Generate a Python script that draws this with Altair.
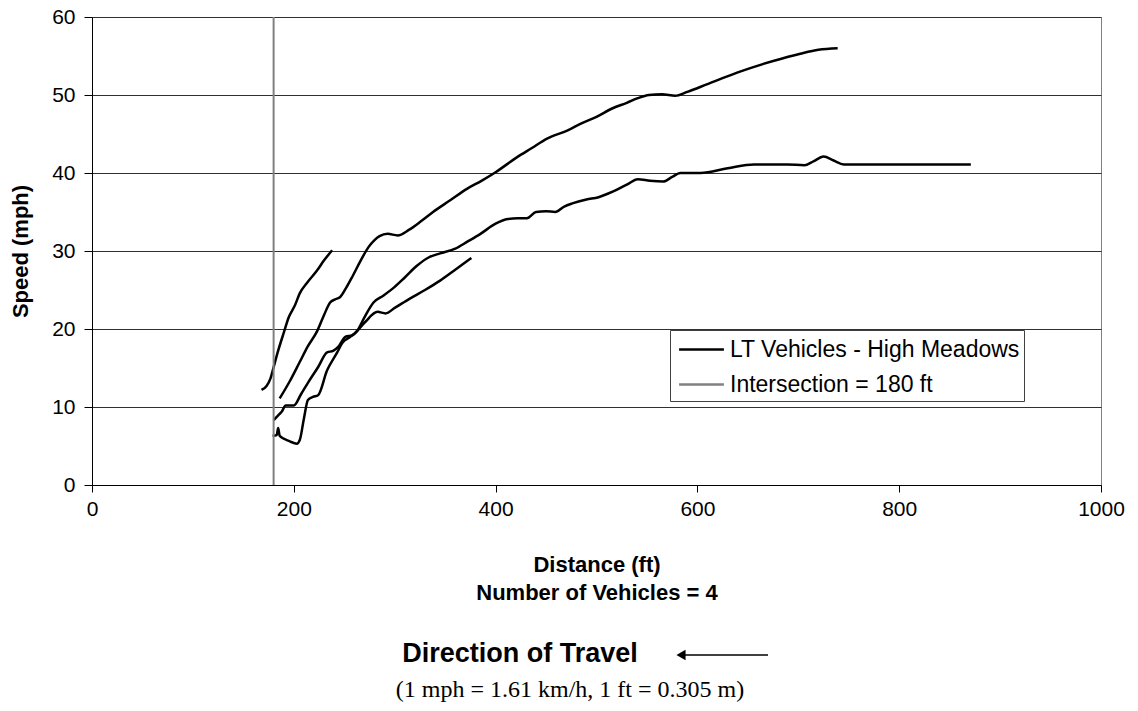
import altair as alt
import pandas as pd

# ---------------- data ----------------
SERIES_LT = "LT Vehicles - High Meadows"
SERIES_INT = "Intersection = 180 ft"

v1_dist = [168, 173, 177, 180, 184, 190, 195, 201, 206, 213, 223, 230, 238]
v1_speed = [12.2, 12.7, 13.7, 15.1, 17.0, 19.5, 21.5, 23.0, 24.6, 25.9, 27.5, 28.8, 30.1]

v2_dist = [186, 196, 206, 214, 223, 230, 236, 241, 246, 252, 258, 266, 274, 280, 285, 293,
           303, 314, 326, 338, 355, 372, 386, 400, 421, 436, 451, 472, 484, 500, 516, 530,
           541, 552, 565, 578, 590, 610, 640, 676, 702, 720, 739]
v2_speed = [11.1, 13.3, 15.8, 17.8, 19.7, 21.8, 23.4, 23.8, 24.1, 25.3, 26.7, 28.7, 30.5, 31.4,
            31.9, 32.2, 32.0, 32.7, 33.8, 35.0, 36.5, 38.0, 39.0, 40.1, 42.0, 43.2, 44.4, 45.5,
            46.3, 47.2, 48.3, 49.0, 49.6, 50.0, 50.1, 49.9, 50.4, 51.4, 52.9, 54.4, 55.3, 55.8, 56.0]

v3_dist = [179, 183, 184.5, 186, 196, 203, 206, 210, 214, 219, 224, 233, 243, 248, 256, 263,
           270, 279, 289, 300, 310, 322, 334, 345, 360, 372, 385, 400, 412, 422, 431, 440,
           450, 459, 468, 476, 490, 502, 516, 530, 541, 553, 566, 575, 583, 603, 630, 656,
           689, 706, 715, 725, 735, 745, 762, 871]
v3_speed = [6.3, 6.4, 7.3, 6.3, 5.6, 5.3, 5.8, 8.5, 10.9, 11.3, 11.5, 14.7, 17.0, 18.2, 19.0,
            19.8, 21.5, 23.4, 24.3, 25.4, 26.6, 28.1, 29.2, 29.7, 30.3, 31.2, 32.2, 33.5, 34.1,
            34.2, 34.2, 35.0, 35.1, 35.0, 35.7, 36.1, 36.6, 36.9, 37.6, 38.5, 39.2, 39.0, 38.9,
            39.5, 40.0, 40.0, 40.6, 41.1, 41.1, 41.0, 41.5, 42.1, 41.6, 41.1, 41.1, 41.1]

v4_dist = [180, 185, 188, 192, 200, 207, 214, 224, 233, 239, 244, 251, 258, 270, 283, 291,
           300, 315, 330, 345, 360, 376]
v4_speed = [8.3, 9.0, 9.4, 10.2, 10.2, 11.6, 13.1, 15.1, 17.0, 17.2, 17.7, 19.0, 19.2, 20.8,
            22.2, 22.0, 22.7, 23.9, 25.0, 26.2, 27.6, 29.1]

intersection_dist = [180]

x_ticks = [0, 200, 400, 600, 800, 1000]
y_ticks = [0, 10, 20, 30, 40, 50, 60]

x_title_lines = ["Distance (ft)", "Number of Vehicles = 4"]
y_title = "Speed (mph)"
direction_text = "Direction of Travel"
units_text = "(1 mph = 1.61 km/h, 1 ft = 0.305 m)"

# ---------------- tables ----------------
rows = []
for vid, xs, ys in [("v1", v1_dist, v1_speed), ("v2", v2_dist, v2_speed),
                    ("v3", v3_dist, v3_speed), ("v4", v4_dist, v4_speed)]:
    for d, s in zip(xs, ys):
        rows.append({"vehicle": vid, "distance": d, "speed": s, "series": SERIES_LT})
df = pd.DataFrame(rows)
df_int = pd.DataFrame({"distance": intersection_dist, "series": [SERIES_INT]})

W, H = 1009, 468
FONT = "Liberation Sans"

color_scale = alt.Scale(domain=[SERIES_LT, SERIES_INT], range=["#000000", "#808080"])

x_enc = alt.X("distance:Q", scale=alt.Scale(domain=[0, 1000], nice=False),
              axis=alt.Axis(values=x_ticks, grid=False, title=None, format="d",
                            labelFontSize=21, labelPadding=6, tickSize=7, labelFlush=False,
                            tickColor="#000000", domainColor="#000000",
                            labelColor="#000000", labelFont=FONT))
y_enc = alt.Y("speed:Q", scale=alt.Scale(domain=[0, 60], nice=False),
              axis=alt.Axis(values=y_ticks, grid=True, gridColor="#303030", gridWidth=1,
                            title=y_title, titleFontSize=22, titleFontWeight="bold",
                            titleFont=FONT, titleX=-72, titleY=H / 2, titleAngle=270,
                            titleBaseline="middle", titleAlign="center",
                            labelFontSize=21, labelPadding=9, tickSize=8, labelFlush=False,
                            tickColor="#000000", domainColor="#000000",
                            labelColor="#000000", labelFont=FONT))

legend = alt.Legend(title=None, orient="none", legendX=578, legendY=313,
                    symbolType="M-1.6,0H1.6", symbolSize=784, symbolStrokeWidth=2.5,
                    symbolOffset=12, labelOffset=13,
                    labelFontSize=23, labelFont=FONT, labelColor="#000000",
                    strokeColor="#404040", fillColor="#ffffff", padding=4,
                    rowPadding=7, labelLimit=500)

lines = alt.Chart(df).mark_line(strokeWidth=2.5, interpolate="monotone").encode(
    x=x_enc, y=y_enc,
    color=alt.Color("series:N", scale=color_scale, legend=legend),
    detail="vehicle:N",
    order="distance:Q",
)

rule = alt.Chart(df_int).mark_rule(strokeWidth=2).encode(
    x=alt.X("distance:Q"),
    color=alt.Color("series:N", scale=color_scale, legend=legend),
)

one = pd.DataFrame({"a": [0]})

def label(txt, x, y, size, weight="normal", font=FONT):
    return alt.Chart(one).mark_text(fontSize=size, fontWeight=weight, font=font,
                                    align="center", baseline="middle", color="#000000").encode(
        x=alt.value(x), y=alt.value(y), text=alt.value(txt))

t1 = label(x_title_lines[0], 505, 548, 22, "bold")
t2 = label(x_title_lines[1], 505, 576, 22, "bold")
t3 = label(direction_text, 428, 637, 27, "bold")
t4 = label(units_text, 478, 673, 24, "normal", "Liberation Serif")

arrow_line = alt.Chart(one).mark_rule(strokeWidth=1.5, color="#000000").encode(
    x=alt.value(590), x2=alt.value(676), y=alt.value(638))
arrow_head = alt.Chart(one).mark_point(shape="triangle-left", filled=True, size=110,
                                       color="#000000", opacity=1).encode(
    x=alt.value(589), y=alt.value(638))

chart = alt.layer(lines, rule, t1, t2, t3, t4, arrow_line, arrow_head).properties(
    width=W, height=H,
    autosize=alt.AutoSizeParams(type="none"),
    padding={"left": 92, "top": 17, "right": 37, "bottom": 226},
    background="#ffffff",
).configure_view(stroke="#808080", strokeWidth=1).configure_axis(labelFont=FONT)

chart.save("out.html", embed_options={"renderer": "svg", "actions": False})
